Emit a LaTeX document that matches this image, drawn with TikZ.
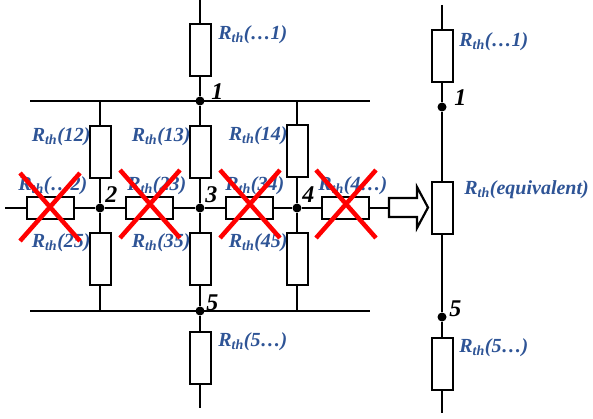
\documentclass[tikz,border=0pt]{standalone}
\usepackage{fontspec}
\setmainfont{Liberation Serif}
\usetikzlibrary{calc, positioning}
\definecolor{labelColor}{RGB}{46,84,150}
\definecolor{crossColor}{RGB}{255,0,0}
\tikzset{resistorV/.style={draw, line width=2pt, fill=white, minimum width=21pt, minimum height=52pt, inner sep=0pt}}
\tikzset{resistorH/.style={resistorV, minimum width=47pt, minimum height=22pt}}
\tikzset{junction/.style={circle, fill=black, inner sep=0pt, minimum size=9pt}}
\tikzset{rlabel/.style={text=labelColor, font=\fontsize{20}{20}\selectfont\bfseries\itshape, inner sep=0pt}}
\tikzset{nlabel/.style={font=\fontsize{24}{24}\selectfont\bfseries\itshape, inner sep=0pt, anchor=base west}}
\tikzset{cross/.style={draw=crossColor, line width=4.5pt}}
\newcommand{\rth}[1]{R\textsubscript{th}(#1)}

\begin{document}
\begin{tikzpicture}[x=1pt, y=-1pt, line width=1.8pt]
	\useasboundingbox (0,0) rectangle (593,419);
	% Nodes
		% left network, middle column
		\coordinate (topL) at (200,0);
		\node (R01) [resistorV] at (200,50) {};
		\node (n1) [junction] at (200,101) {};
		\node (R13) [resistorV] at (200,152) {};
		\node (n3) [junction] at (200,208) {};
		\node (R35) [resistorV] at (200,259) {};
		\node (n5) [junction] at (200,311) {};
		\node (R50) [resistorV] at (200,358) {};
		\coordinate (botL) at (200,408);

		% left and right columns
		\node (R12) [resistorV] at (100,152) {};
		\node (n2) [junction] at (100,208) {};
		\node (R25) [resistorV] at (100,259) {};
		\node (R14) [resistorV] at (297,151) {};
		\node (n4) [junction] at (297,208) {};
		\node (R45) [resistorV] at (297,259) {};

		% buses
		\coordinate (busTL) at (30,101);
		\coordinate (busTR) at (370,101);
		\coordinate (busBL) at (30,311);
		\coordinate (busBR) at (370,311);
		\coordinate (col2T) at (100,101);
		\coordinate (col2B) at (100,311);
		\coordinate (col4T) at (297,101);
		\coordinate (col4B) at (297,311);

		% horizontal row
		\coordinate (rowL) at (5,208);
		\node (R02) [resistorH] at (50,208) {};
		\node (R23) [resistorH] at (149,208) {};
		\node (R34) [resistorH] at (249,208) {};
		\node (R40) [resistorH] at (345,208) {};
		\coordinate (arrowTail) at (389,208);

		% equivalent circuit
		\coordinate (topR) at (442,5);
		\node (R01r) [resistorV] at (442,56) {};
		\node (n1r) [junction] at (442,107) {};
		\node (Req) [resistorV] at (442,208) {};
		\node (n5r) [junction] at (442,317) {};
		\node (R50r) [resistorV] at (442,364) {};
		\coordinate (botR) at (442,413);

	% Connectors
		\draw (topL) -- (R01) -- (n1) -- (R13) -- (n3) -- (R35) -- (n5) -- (R50) -- (botL);
		\draw (busTL) -- (busTR);
		\draw (busBL) -- (busBR);
		\draw (col2T) -- (R12) -- (n2) -- (R25) -- (col2B);
		\draw (col4T) -- (R14) -- (n4) -- (R45) -- (col4B);
		\draw (rowL) -- (R02) -- (n2) -- (R23) -- (n3) -- (R34) -- (n4) -- (R40) -- (arrowTail);
		\draw (topR) -- (R01r) -- (n1r) -- (Req) -- (n5r) -- (R50r) -- (botR);

		% block arrow
		\draw[line width=2.2pt, line join=miter] (arrowTail) ++(0,-10) -- ++(28,0) -- ++(0,-11) -- ++(11,20.5) -- ++(-11,20.5) -- ++(0,-11) -- ++(-28,0) -- cycle;

	% Labels
		\node[rlabel, anchor=west] at ([xshift=6pt, yshift=15pt]R01.east) {\rth{…1}};
		\node[rlabel, anchor=east] at ([xshift=3pt, yshift=15pt]R12.west) {\rth{12}};
		\node[rlabel, anchor=east] at ([xshift=3pt, yshift=15pt]R13.west) {\rth{13}};
		\node[rlabel, anchor=east] at ([xshift=3pt, yshift=15pt]R14.west) {\rth{14}};
		\node[rlabel, anchor=east] at ([xshift=3pt, yshift=16pt]R25.west) {\rth{25}};
		\node[rlabel, anchor=east] at ([xshift=3pt, yshift=16pt]R35.west) {\rth{35}};
		\node[rlabel, anchor=east] at ([xshift=3pt, yshift=16pt]R45.west) {\rth{45}};
		\node[rlabel, anchor=west] at ([xshift=6pt, yshift=16pt]R50.east) {\rth{5…}};
		\node[rlabel, anchor=west] at ([xshift=-8pt, yshift=10pt]R02.north west) {\rth{…2}};
		\node[rlabel, anchor=west] at ([xshift=2pt, yshift=10pt]R23.north west) {\rth{23}};
		\node[rlabel, anchor=west] at ([xshift=0pt, yshift=10pt]R34.north west) {\rth{34}};
		\node[rlabel, anchor=west] at ([xshift=-3pt, yshift=10pt]R40.north west) {\rth{4…}};
		\node[rlabel, anchor=west] at ([xshift=5pt, yshift=14pt]R01r.east) {\rth{…1}};
		\node[rlabel, anchor=west] at ([xshift=10pt, yshift=18pt]Req.east) {\rth{equivalent}};
		\node[rlabel, anchor=west] at ([xshift=5pt, yshift=16pt]R50r.east) {\rth{5…}};

		\node[nlabel] at ([xshift=5pt, yshift=1pt]n1.east) {1};
		\node[nlabel] at ([xshift=-1pt, yshift=5pt]n2.east) {2};
		\node[nlabel] at ([xshift=-1pt, yshift=5pt]n3.east) {3};
		\node[nlabel] at ([xshift=-1pt, yshift=5pt]n4.east) {4};
		\node[nlabel] at ([xshift=0pt, yshift=1pt]n5.east) {5};
		\node[nlabel] at ([xshift=6pt, yshift=1pt]n1r.east) {1};
		\node[nlabel] at ([xshift=1pt, yshift=1pt]n5r.east) {5};

	% Crosses
		\foreach \r/\dx/\dy in {R02/0/1, R23/1/4, R34/1/4, R40/1/4} {
			\draw[cross] ([xshift=\dx pt-30pt, yshift=\dy pt+34pt]\r.center) -- ([xshift=\dx pt+30pt, yshift=\dy pt-34pt]\r.center);
			\draw[cross] ([xshift=\dx pt+30pt, yshift=\dy pt+34pt]\r.center) -- ([xshift=\dx pt-30pt, yshift=\dy pt-34pt]\r.center);
		}

\end{tikzpicture}
\end{document}
